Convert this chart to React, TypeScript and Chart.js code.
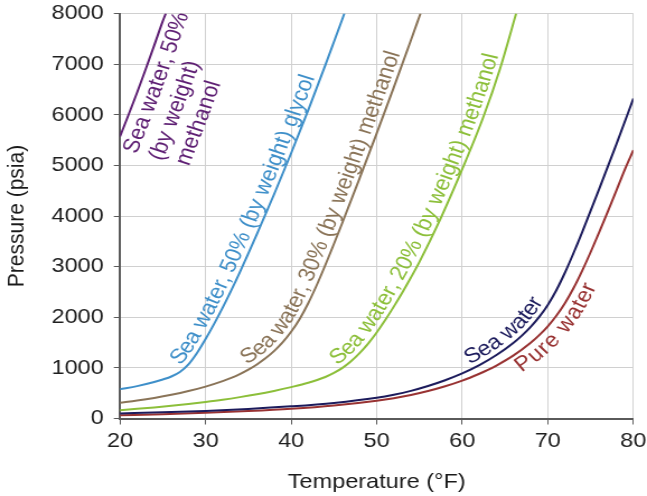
import React, { useEffect, useRef } from 'react';
import { Chart, registerables } from 'chart.js';

Chart.register(...registerables);

const FONT = "'Liberation Sans', Arial, Helvetica, sans-serif";

// ---- data ----
const xAxisTitle = 'Temperature (°F)';
const yAxisTitle = 'Pressure (psia)';

const seriesNames = [
  'Sea water, 50% (by weight) methanol',
  'Sea water, 50% (by weight) glycol',
  'Sea water, 30% (by weight) methanol',
  'Sea water, 20% (by weight) methanol',
  'Sea water',
  'Pure water',
];

const tempMethanol50 = [20, 21, 22, 23, 24, 25, 25.35];
const presMethanol50 = [5570, 6000, 6440, 6900, 7370, 7850, 8000];

const tempGlycol50 = [20, 22, 24, 25, 26, 27, 28, 29, 30, 31, 32, 33, 34, 36, 38, 40, 42, 44, 46, 46.22];
const presGlycol50 = [580, 640, 720, 770, 830, 920, 1070, 1295, 1570, 1870, 2190, 2530, 2887, 3640, 4425, 5240, 6090, 6980, 7896, 8000];

const tempMethanol30 = [20, 22, 24, 26, 28, 30, 32, 33, 34, 35, 36, 37, 38, 39, 40, 41, 42, 43, 44, 46, 48, 50, 52, 54, 55.12];
const presMethanol30 = [310, 354, 406, 468, 542, 630, 738, 801, 876, 965, 1068, 1188, 1330, 1502, 1712, 1967, 2277, 2637, 3032, 3872, 4742, 5632, 6542, 7472, 8000];

const tempMethanol20 = [20, 22, 24, 26, 28, 30, 32, 34, 36, 38, 40, 42, 44, 45, 46, 47, 48, 49, 50, 51, 52, 53, 54, 55, 57.4, 60, 62.4, 64.4, 66.3];
const presMethanol20 = [165, 191, 219, 251, 287, 327, 371, 422, 479, 545, 620, 706, 820, 900, 1000, 1130, 1290, 1480, 1700, 1945, 2210, 2490, 2785, 3095, 3925, 4925, 5925, 6900, 8000];

const tempSeaWater = [20, 25, 30, 35, 40, 45, 50, 52, 54, 56, 58, 60, 62, 64, 66, 67, 68, 69, 70, 71, 72, 73, 74, 76, 78, 80];
const presSeaWater = [100, 122, 150, 188, 240, 308, 410, 470, 546, 642, 756, 890, 1054, 1254, 1498, 1643, 1810, 2007, 2244, 2534, 2879, 3264, 3672, 4530, 5410, 6320];

const tempPureWater = [20, 25, 30, 35, 40, 45, 50, 52, 54, 56, 58, 60, 62, 63, 64, 66, 68, 69, 70, 71, 72, 73, 74, 75, 76, 77, 78, 79, 80];
const presPureWater = [65, 85, 112, 147, 192, 257, 352, 402, 464, 542, 636, 748, 884, 960, 1046, 1246, 1496, 1646, 1821, 2029, 2277, 2572, 2912, 3284, 3676, 4081, 4496, 4918, 5300];

const xMin = 20, xMax = 80, xStep = 10;
const yMin = 0, yMax = 8000, yStep = 1000;

const seriesColors = ['#5E1F73', '#3E8FC9', '#8A7458', '#8CBF3A', '#1C1B5C', '#983232'];

// curve labels: text written along each curve (anchor given as a temperature on that curve)
const curveLabels = [
  { ds: 0, text: 'Sea water, 50%', at: 20, shift: -12, offset: -20 },
  { ds: 0, text: '(by weight)', at: 20, shift: -11, offset: -44 },
  { ds: 0, text: 'methanol', at: 20, shift: -8, offset: -68 },
  { ds: 1, text: 'Sea water, 50% (by weight) glycol', at: 27.5, shift: 0, offset: 5 },
  { ds: 2, text: 'Sea water, 30% (by weight) methanol', at: 35.2, shift: 0, offset: 5 },
  { ds: 3, text: 'Sea water, 20% (by weight) methanol', at: 45.8, shift: 0, offset: 5 },
  { ds: 4, text: 'Sea water', at: 61.2, shift: 0, offset: 5 },
  { ds: 5, text: 'Pure water', at: 65.5, shift: 0, offset: -18 },
];

const seriesTemps = [tempMethanol50, tempGlycol50, tempMethanol30, tempMethanol20, tempSeaWater, tempPureWater];
const seriesPres = [presMethanol50, presGlycol50, presMethanol30, presMethanol20, presSeaWater, presPureWater];

// the reference picture is horizontally stretched; draw narrower and stretch with CSS
const VIEW_W = 647, VIEW_H = 496;
const STRETCH = 1.12;
const CANVAS_W = Math.round(VIEW_W / STRETCH);

type P = { x: number; y: number };

function samplePath(meta: any): P[] {
  const pts = meta.data as any[];
  const out: P[] = [];
  for (let i = 0; i < pts.length; i++) {
    const p = pts[i];
    if (i === 0) { out.push({ x: p.x, y: p.y }); continue; }
    const q = pts[i - 1];
    const c1x = q.cp2x ?? q.x, c1y = q.cp2y ?? q.y;
    const c2x = p.cp1x ?? p.x, c2y = p.cp1y ?? p.y;
    const N = 30;
    for (let k = 1; k <= N; k++) {
      const t = k / N, m = 1 - t;
      out.push({
        x: m * m * m * q.x + 3 * m * m * t * c1x + 3 * m * t * t * c2x + t * t * t * p.x,
        y: m * m * m * q.y + 3 * m * m * t * c1y + 3 * m * t * t * c2y + t * t * t * p.y,
      });
    }
  }
  return out;
}

const curveTextPlugin = {
  id: 'curveText',
  afterDatasetsDraw(chart: any) {
    const ctx = chart.ctx as CanvasRenderingContext2D;
    const xScale = chart.scales.x;
    ctx.save();
    ctx.font = `21px ${FONT}`;
    ctx.textBaseline = 'alphabetic';
    ctx.textAlign = 'left';
    for (const lab of curveLabels) {
      const path = samplePath(chart.getDatasetMeta(lab.ds));
      if (path.length < 2) continue;
      const cum: number[] = [0];
      for (let i = 1; i < path.length; i++) {
        cum.push(cum[i - 1] + Math.hypot(path[i].x - path[i - 1].x, path[i].y - path[i - 1].y));
      }
      const total = cum[cum.length - 1];
      const pointAt = (s: number): P => {
        if (s <= 0) {
          const a = path[0], b = path[1];
          const L = Math.hypot(b.x - a.x, b.y - a.y) || 1;
          return { x: a.x + (b.x - a.x) / L * s, y: a.y + (b.y - a.y) / L * s };
        }
        if (s >= total) {
          const a = path[path.length - 2], b = path[path.length - 1];
          const L = Math.hypot(b.x - a.x, b.y - a.y) || 1;
          return { x: b.x + (b.x - a.x) / L * (s - total), y: b.y + (b.y - a.y) / L * (s - total) };
        }
        let i = 1;
        while (i < cum.length && cum[i] < s) i++;
        const f = (s - cum[i - 1]) / ((cum[i] - cum[i - 1]) || 1);
        return { x: path[i - 1].x + (path[i].x - path[i - 1].x) * f, y: path[i - 1].y + (path[i].y - path[i - 1].y) * f };
      };
      const ax = xScale.getPixelForValue(lab.at);
      let s0 = 0;
      for (let i = 1; i < path.length; i++) {
        if (path[i].x >= ax) {
          const f = (ax - path[i - 1].x) / ((path[i].x - path[i - 1].x) || 1);
          s0 = cum[i - 1] + (cum[i] - cum[i - 1]) * Math.max(0, Math.min(1, f));
          break;
        }
      }
      s0 += lab.shift;
      ctx.fillStyle = seriesColors[lab.ds];
      for (let i = 0; i < lab.text.length; i++) {
        const ch = lab.text[i];
        const before = ctx.measureText(lab.text.slice(0, i)).width;
        const w = ctx.measureText(ch).width;
        const sc = s0 + before + w / 2;
        const a = pointAt(sc - 6), b = pointAt(sc + 6);
        const th = Math.atan2(b.y - a.y, b.x - a.x);
        const c = pointAt(sc);
        const ux = Math.sin(th), uy = -Math.cos(th);
        ctx.save();
        ctx.translate(c.x + ux * lab.offset, c.y + uy * lab.offset);
        ctx.rotate(th);
        ctx.fillText(ch, -w / 2, 0);
        ctx.restore();
      }
    }
    ctx.restore();
  },
};

export default function App() {
  const ref = useRef<HTMLCanvasElement | null>(null);
  useEffect(() => {
    if (!ref.current) return;
    Chart.defaults.font.family = FONT;
    const datasets = seriesNames.map((name, i) => ({
      label: name,
      data: seriesTemps[i].map((t, k) => ({ x: t, y: seriesPres[i][k] })),
      borderColor: seriesColors[i],
      backgroundColor: seriesColors[i],
      borderWidth: 2,
      pointRadius: 0,
      fill: false,
      cubicInterpolationMode: 'monotone' as const,
    }));
    const chart = new Chart(ref.current, {
      type: 'line',
      data: { datasets },
      plugins: [curveTextPlugin],
      options: {
        responsive: false,
        animation: false,
        devicePixelRatio: 1,
        layout: { padding: { top: 13.5, right: 12.2, left: 0, bottom: 0 } },
        plugins: { legend: { display: false }, tooltip: { enabled: false } },
        scales: {
          x: {
            type: 'linear',
            min: xMin,
            max: xMax,
            ticks: { stepSize: xStep, color: '#1e1e1e', font: { size: 21 }, padding: 4 },
            grid: { color: '#d0d0d0', lineWidth: 1, tickColor: '#5a5a5a', tickLength: 6 },
            border: { color: '#5a5a5a', width: 2 },
            title: { display: true, text: xAxisTitle, color: '#1a1a1a', font: { size: 21 }, padding: { top: 0, bottom: 1 } },
            afterFit: (s: any) => { s.height = 77.5; s.paddingLeft = 0; s.paddingRight = 0; },
          },
          y: {
            type: 'linear',
            min: yMin,
            max: yMax,
            ticks: { stepSize: yStep, color: '#1e1e1e', font: { size: 21 }, padding: 9, callback: (v: any) => String(v) },
            grid: { color: '#d0d0d0', lineWidth: 1, tickColor: '#5a5a5a', tickLength: 5.5 },
            border: { color: '#5a5a5a', width: 2 },
            title: { display: true, text: yAxisTitle, color: '#1a1a1a', font: { size: 21 }, padding: { top: 2.5, bottom: 0 } },
            afterFit: (s: any) => { s.width = 107.2; s.paddingTop = 0; s.paddingBottom = 0; },
          },
        },
      },
    });
    return () => chart.destroy();
  }, []);
  return (
    <div style={{ position: 'fixed', left: 0, top: 0, width: VIEW_W, height: VIEW_H, background: '#fff' }}>
      <canvas
        ref={ref}
        width={CANVAS_W}
        height={VIEW_H}
        style={{ display: 'block', width: `${VIEW_W}px`, height: `${VIEW_H}px` }}
      />
    </div>
  );
}
